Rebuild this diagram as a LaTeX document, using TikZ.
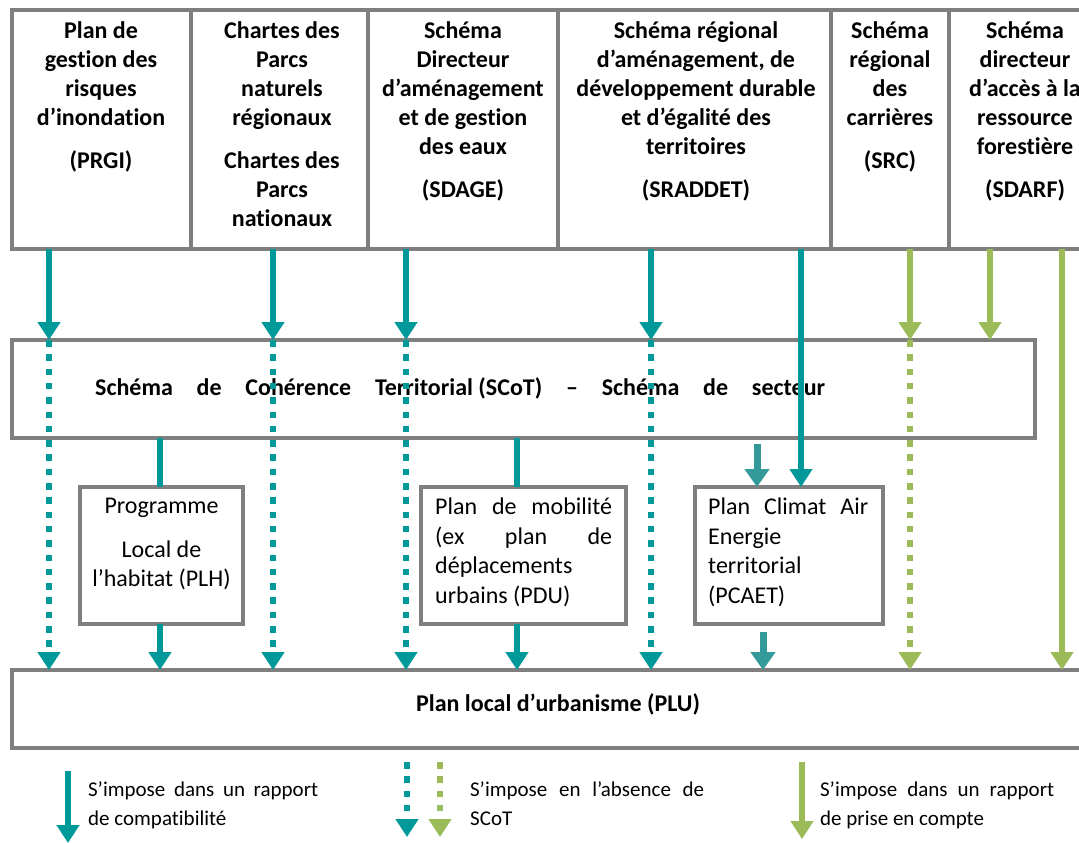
\documentclass[tikz,border=0pt]{standalone}
\usepackage{fontspec}
\setmainfont{Carlito}[Ligatures=NoCommon]
\usetikzlibrary{arrows.meta}
\definecolor{teal1}{HTML}{009999}
\definecolor{teal2}{HTML}{339999}
\definecolor{green1}{HTML}{9BBB59}
\definecolor{frame}{HTML}{7F7F7F}
\begin{document}
\begin{tikzpicture}[x=1pt,y=-1pt,
  box/.style={draw=frame, line width=4pt, inner sep=0pt, outer sep=0pt},
  ttext/.style={font=\bfseries\fontsize{24}{29}\selectfont, align=center, anchor=north, inner sep=0pt},
  btext/.style={font=\fontsize{24}{29.5}\selectfont, inner sep=0pt, anchor=north, align=center},
  jtext/.style={font=\fontsize{24}{29.5}\selectfont, inner sep=0pt, anchor=north west, align=left},
  ltext/.style={font=\fontsize{21}{29}\selectfont, inner sep=0pt, anchor=north west, align=left},
  tip/.style={-{Triangle[width=22pt,length=18pt]}},
  tarr/.style={draw=teal1, line width=5.5pt, tip},
  tline/.style={draw=teal1, line width=5.5pt},
  tdot/.style={draw=teal1, line width=6.5pt, dash pattern=on 6.5pt off 7.8pt, tip},
  garr/.style={draw=green1, line width=5.5pt, tip},
  gdot/.style={draw=green1, line width=6.5pt, dash pattern=on 6.5pt off 7.8pt, tip},
  sarr/.style={draw=teal2, line width=7pt, -{Triangle[width=24pt,length=18pt]}},
]
\useasboundingbox (0,0) rectangle (1079,843);
\clip (0,0) rectangle (1079,843);

% top boxes
\node[box, minimum width=179, minimum height=239] (prgi) at (101.5,129.5) {};
\node[box, minimum width=177, minimum height=239] (parcs) at (279.5,129.5) {};
\node[box, minimum width=190, minimum height=239] (sdage) at (463,129.5) {};
\node[box, minimum width=273, minimum height=239] (sraddet) at (694.5,129.5) {};
\node[box, minimum width=118, minimum height=239] (src) at (890,129.5) {};
\node[box, minimum width=151, minimum height=239] (sdarf) at (1024.5,129.5) {};

\node[ttext] (tprgi) at (101,21) {Plan de\\gestion des\\risques\\d’inondation\\[14pt](PRGI)};
\node[ttext] (tparcs) at (282,21) {Chartes des\\Parcs\\naturels\\régionaux\\[14pt]Chartes des\\Parcs\\nationaux};
\node[ttext] (tsdage) at (463,21) {Schéma\\Directeur\\d’aménagement\\et de gestion\\des eaux\\[14pt](SDAGE)};
\node[ttext] (tsraddet) at (696,21) {Schéma régional\\d’aménagement, de\\développement durable\\et d’égalité des\\territoires\\[14pt](SRADDET)};
\node[ttext] (tsrc) at (890,21) {Schéma\\régional\\des\\carrières\\[14pt](SRC)};
\node[ttext] (tsdarf) at (1025,21) {Schéma\\directeur\\d’accès à la\\ressource\\forestière\\[14pt](SDARF)};

% SCoT
\node[box, minimum width=1023, minimum height=98] (scot) at (523.5,389) {};
\node[inner sep=0pt, anchor=west, font=\bfseries\fontsize{24}{29}\selectfont] (tscot) at (95,388)
  {\makebox[730pt]{Schéma\hfill de\hfill Cohérence\hfill Territorial (SCoT)\hfill –\hfill Schéma\hfill de\hfill secteur}};

% middle boxes
\node[box, minimum width=163, minimum height=137] (plh) at (161.5,555.5) {};
\node[btext] (tplh) at (161.5,498) {Programme\\[14pt]Local de\\l’habitat (PLH)};
\node[box, minimum width=205, minimum height=137] (pdu) at (523.5,555.5) {};
\node[jtext] (tpdu) at (435,498) {\makebox[177pt][s]{Plan de mobilité}\\\makebox[177pt][s]{(ex plan de}\\déplacements\\urbains (PDU)};
\node[box, minimum width=188, minimum height=137] (pcaet) at (789,555.5) {};
\node[jtext] (tpcaet) at (708,498) {\makebox[160pt][s]{Plan Climat Air}\\Energie\\territorial\\(PCAET)};

% PLU
\node[box, minimum width=1088, minimum height=78] (plu) at (556,709) {};
\node[inner sep=0pt, font=\bfseries\fontsize{24}{29}\selectfont] (tplu) at (558,704) {Plan local d’urbanisme (PLU)};

% column coordinates
\coordinate (c1) at (49,0);
\coordinate (c2) at (273,0);
\coordinate (c3) at (406,0);
\coordinate (c4) at (651,0);
\coordinate (c5) at (517,0);
\coordinate (c6) at (801,0);
\coordinate (c7) at (910,0);
\coordinate (c8) at (990,0);
\coordinate (c9) at (1062,0);
\coordinate (c10) at (160,0);

% top -> SCoT, then dotted -> PLU
\draw[tarr] (prgi.south -| c1) -- (scot.north -| c1);
\draw[tdot] (scot.north -| c1) -- (plu.north -| c1);
\draw[tarr] (parcs.south -| c2) -- (scot.north -| c2);
\draw[tdot] (scot.north -| c2) -- (plu.north -| c2);
\draw[tarr] (sdage.south -| c3) -- (scot.north -| c3);
\draw[tdot] (scot.north -| c3) -- (plu.north -| c3);
\draw[tarr] (sraddet.south -| c4) -- (scot.north -| c4);
\draw[tdot] (scot.north -| c4) -- (plu.north -| c4);
\draw[tarr] (sraddet.south -| c6) -- (pcaet.north -| c6);
\draw[garr] (src.south -| c7) -- (scot.north -| c7);
\draw[gdot] (scot.north -| c7) -- (plu.north -| c7);
\draw[garr] (sdarf.south -| c8) -- (scot.north -| c8);
\draw[garr] (sdarf.south -| c9) -- (plu.north -| c9);

% SCoT -> PLH / PDU -> PLU
\draw[tline] (scot.south -| c10) -- (plh.north -| c10);
\draw[tarr] (plh.south -| c10) -- (plu.north -| c10);
\draw[tline] (scot.south -| c5) -- (pdu.north -| c5);
\draw[tarr] (pdu.south -| c5) -- (plu.north -| c5);

% PCAET small arrows
\coordinate (s1) at (757,444);
\draw[sarr] (s1) -- (s1 |- pcaet.north);
\coordinate (s2) at (763,632);
\draw[sarr] (s2) -- (s2 |- plu.north);

% legend
\coordinate (l1a) at (68,771);
\coordinate (l1b) at (68,843);
\draw[tarr] (l1a) -- (l1b);
\node[ltext] (lg1) at (88,781) {\makebox[230pt][s]{S’impose dans un rapport}\\de compatibilité};
\coordinate (l2a) at (407,762);
\coordinate (l2b) at (407,837);
\draw[tdot] (l2a) -- (l2b);
\coordinate (l3a) at (440,762);
\coordinate (l3b) at (440,837);
\draw[gdot] (l3a) -- (l3b);
\node[ltext] (lg2) at (470,781) {\makebox[234pt][s]{S’impose en l’absence de}\\SCoT};
\coordinate (l4a) at (802,762);
\coordinate (l4b) at (802,839);
\draw[garr] (l4a) -- (l4b);
\node[ltext] (lg3) at (820,781) {\makebox[234pt][s]{S’impose dans un rapport}\\de prise en compte};
\end{tikzpicture}
\end{document}
